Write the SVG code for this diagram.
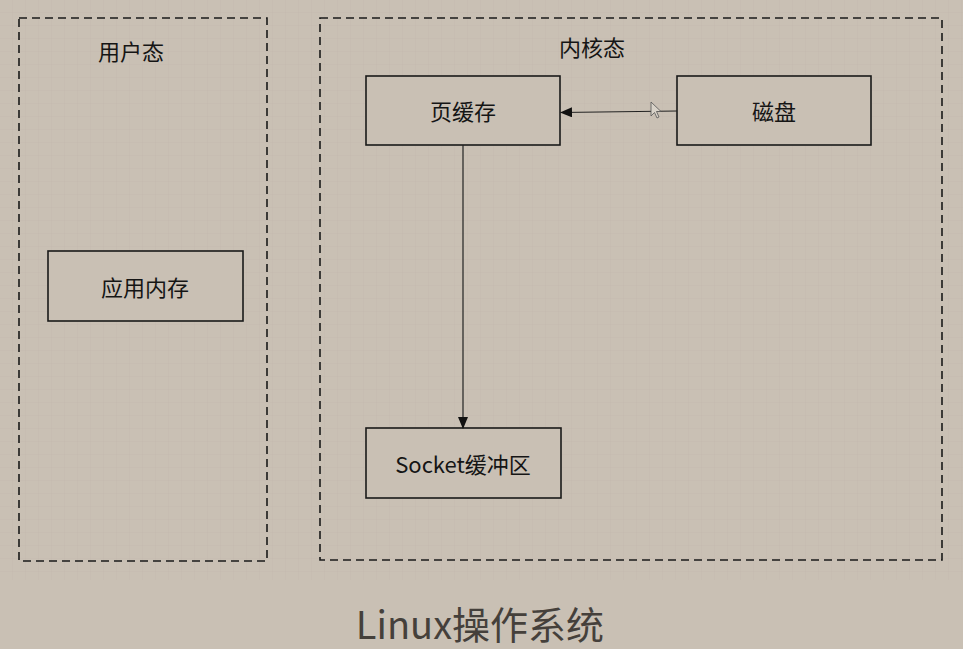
<svg xmlns="http://www.w3.org/2000/svg" width="963" height="649" viewBox="0 0 963 649">
<defs>
<pattern id="grid" width="13" height="13" patternUnits="userSpaceOnUse">
<path d="M13 0V13H0" fill="none" stroke="#bdb4a8" stroke-width="0.6" opacity="0.6"/>
</pattern>
<marker id="arr" markerWidth="12" markerHeight="10" refX="11" refY="5" orient="auto" markerUnits="userSpaceOnUse">
<path d="M0,0 L12,5 L0,10 Z" fill="#111"/>
</marker>
<style>
.zone{fill:none;stroke:#1a1a1a;stroke-width:1.6;stroke-dasharray:8 5}
.box{fill:#c9c0b4;stroke:#1a1a1a;stroke-width:1.6}
.t{font-family:"Noto Sans CJK SC","Noto Sans",sans-serif;font-size:22px;fill:#151515;text-anchor:middle;dominant-baseline:central}
.edge{stroke:#222;stroke-width:1.2;fill:none}
</style>
</defs>
<rect width="963" height="649" fill="#c9c0b4"/>
<rect width="963" height="580" fill="url(#grid)"/>
<g id="user-space">
<rect class="zone" x="19" y="18" width="248" height="543"/>
<text class="t" x="131" y="50">用户态</text>
</g>
<g id="kernel-space">
<rect class="zone" x="320" y="18" width="622" height="542"/>
<text class="t" x="592" y="46">内核态</text>
</g>
<g id="page-cache">
<rect class="box" x="366" y="76" width="194" height="69"/>
<text class="t" x="463" y="110">页缓存</text>
</g>
<g id="disk">
<rect class="box" x="677" y="76" width="194" height="69"/>
<text class="t" x="774" y="110">磁盘</text>
</g>
<g id="app-memory">
<rect class="box" x="48" y="251" width="195" height="70"/>
<text class="t" x="145" y="286">应用内存</text>
</g>
<g id="socket-buffer">
<rect class="box" x="366" y="428" width="195" height="70"/>
<text class="t" x="463" y="463">Socket缓冲区</text>
</g>
<g id="connectors">
<line class="edge" x1="677" y1="111" x2="561" y2="112.5" marker-end="url(#arr)"/>
<line class="edge" x1="463" y1="145" x2="463" y2="428" marker-end="url(#arr)"/>
</g>
<path d="M651,102 L651,116 L654.5,112.5 L657,118 L659,117 L656.5,111.5 L661,111.5 Z" fill="#d8d2c8" stroke="#555" stroke-width="0.8"/>
<text x="480" y="622" font-family="'Noto Sans CJK SC','Noto Sans',sans-serif" font-size="38" fill="#45403b" text-anchor="middle" dominant-baseline="central">Linux操作系统</text>
</svg>
